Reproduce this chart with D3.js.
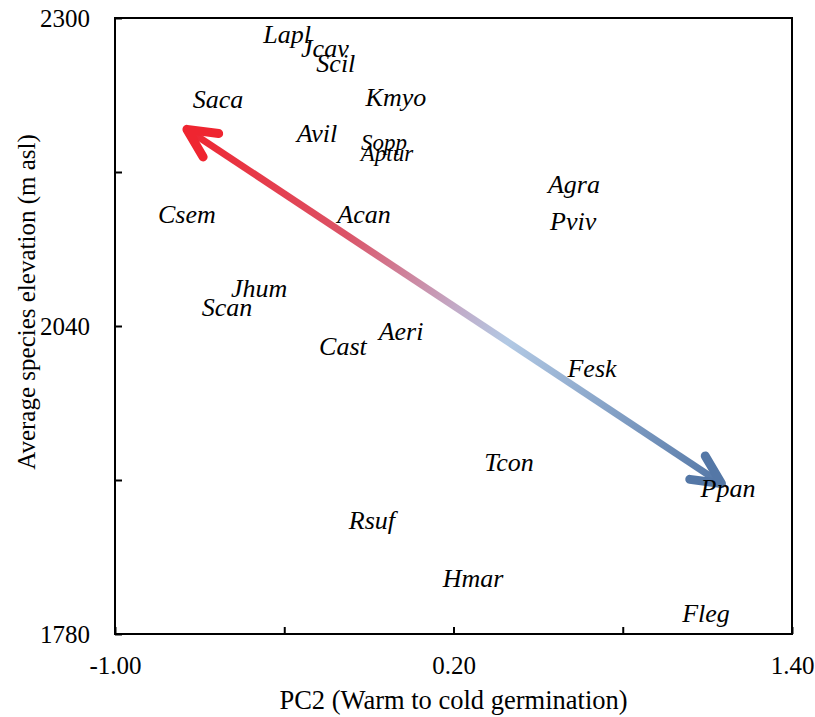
<!DOCTYPE html>
<html>
<head>
<meta charset="utf-8">
<script src="https://cdn.jsdelivr.net/npm/d3@7"></script>
<style>
  body { margin: 0; background: #fff; }
  svg text { font-family: "Liberation Serif", "Times New Roman", serif; fill: #000; }
</style>
</head>
<body>
<div class="chart"></div>
<script>
// species labels (label centres)
var species   = ["Lapl", "Jcav", "Scil", "Saca", "Kmyo", "Avil", "Sopp", "Aptur", "Csem", "Acan",
                 "Agra", "Pviv", "Jhum", "Scan", "Aeri", "Cast", "Fesk", "Tcon", "Ppan", "Rsuf", "Hmar", "Fleg"];
var pc2       = [-0.390, -0.256, -0.217, -0.635, -0.004, -0.284, -0.046, -0.036, -0.745, -0.117,
                 0.627, 0.624, -0.489, -0.603, 0.014, -0.192, 0.691, 0.397, 1.173, -0.089, 0.269, 1.095];
var elevation = [2287, 2275, 2262, 2232, 2233, 2203, 2195, 2186, 2135, 2135,
                 2160, 2129, 2072, 2056, 2036, 2023, 2005, 1925, 1903, 1876, 1827, 1798];

var xTicks = [-1.0, -0.4, 0.2, 0.8, 1.4];
var xTickLabels = ["-1.00", "", "0.20", "", "1.40"];
var yTicks = [1780, 1910, 2040, 2170, 2300];
var yTickLabels = ["1780", "", "2040", "", "2300"];

// double headed arrow (warm -> cold)
var arrowStart = [-0.745, 2206];
var arrowEnd = [1.150, 1907];

var width = 815, height = 717;
var margin = {top: 18, right: 23, bottom: 83, left: 115};
var serif = "'Liberation Serif', 'Times New Roman', serif";

var svg = d3.select(".chart").append("svg")
    .attr("width", width)
    .attr("height", height);

var x = d3.scaleLinear().domain([-1.0, 1.4]).range([margin.left, width - margin.right]);
var y = d3.scaleLinear().domain([1780, 2300]).range([height - margin.bottom, margin.top]);

// axes, ticks pointing inwards
var xAxis = d3.axisBottom(x)
    .tickValues(xTicks)
    .tickSizeInner(-7).tickSizeOuter(0).tickPadding(22)
    .tickFormat(function (d, i) { return xTickLabels[i]; });

var yAxis = d3.axisLeft(y)
    .tickValues(yTicks)
    .tickSizeInner(-7).tickSizeOuter(0).tickPadding(25)
    .tickFormat(function (d, i) { return yTickLabels[i]; });

var gx = svg.append("g")
    .attr("transform", "translate(0," + (height - margin.bottom) + ")")
    .call(xAxis);
var gy = svg.append("g")
    .attr("transform", "translate(" + margin.left + ",0)")
    .call(yAxis);

[gx, gy].forEach(function (g) {
    g.attr("font-family", null).attr("font-size", null);
    g.select(".domain").remove();
    g.selectAll(".tick line").attr("stroke", "#000").attr("stroke-width", 2);
    g.selectAll(".tick text")
        .style("font-family", serif)
        .style("font-size", "25px");
});
gx.selectAll(".tick text").attr("dy", "0.71em");

// frame
svg.append("rect")
    .attr("x", x(-1.0))
    .attr("y", y(2300))
    .attr("width", x(1.4) - x(-1.0))
    .attr("height", y(1780) - y(2300))
    .attr("fill", "none")
    .attr("stroke", "#000")
    .attr("stroke-width", 2);

// axis titles
svg.append("text")
    .attr("x", (x(-1.0) + x(1.4)) / 2)
    .attr("y", 709)
    .attr("text-anchor", "middle")
    .style("font-family", serif)
    .style("font-size", "26.5px")
    .text("PC2 (Warm to cold germination)");

svg.append("text")
    .attr("transform", "translate(35,302) rotate(-90)")
    .attr("text-anchor", "middle")
    .style("font-family", serif)
    .style("font-size", "25px")
    .text("Average species elevation (m asl)");

// gradient arrow
var x1 = x(arrowStart[0]), y1 = y(arrowStart[1]),
    x2 = x(arrowEnd[0]), y2 = y(arrowEnd[1]);

var grad = svg.append("defs").append("linearGradient")
    .attr("id", "arrowGrad")
    .attr("gradientUnits", "userSpaceOnUse")
    .attr("x1", x1).attr("y1", y1)
    .attr("x2", x2).attr("y2", y2);
grad.append("stop").attr("offset", "0").attr("stop-color", "#ef2530");
grad.append("stop").attr("offset", "0.3").attr("stop-color", "#db5468");
grad.append("stop").attr("offset", "0.5").attr("stop-color", "#c3a9c6");
grad.append("stop").attr("offset", "0.6").attr("stop-color", "#b2c9e4");
grad.append("stop").attr("offset", "1").attr("stop-color", "#5477a6");

svg.append("line")
    .attr("x1", x1).attr("y1", y1)
    .attr("x2", x2).attr("y2", y2)
    .attr("stroke", "url(#arrowGrad)")
    .attr("stroke-width", 7);

function head(tx, ty, fx, fy, color) {
    var a = Math.atan2(fy - ty, fx - tx), len = 32, spread = 26 * Math.PI / 180;
    var p = [
        [tx + len * Math.cos(a - spread), ty + len * Math.sin(a - spread)],
        [tx, ty],
        [tx + len * Math.cos(a + spread), ty + len * Math.sin(a + spread)]
    ];
    svg.append("path")
        .attr("d", d3.line()(p))
        .attr("fill", "none")
        .attr("stroke", color)
        .attr("stroke-width", 9)
        .attr("stroke-linecap", "round")
        .attr("stroke-linejoin", "round");
}
head(x1, y1, x2, y2, "#ef2530");
head(x2, y2, x1, y1, "#5477a6");

// species labels
var small = ["Sopp", "Aptur"];
svg.append("g")
    .selectAll("text")
    .data(species)
    .enter().append("text")
    .attr("x", function (d, i) { return x(pc2[i]); })
    .attr("y", function (d, i) { return y(elevation[i]); })
    .attr("dy", "0.35em")
    .attr("text-anchor", "middle")
    .style("font-family", serif)
    .style("font-style", "italic")
    .style("font-size", function (d) { return small.indexOf(d) >= 0 ? "23px" : "26px"; })
    .text(function (d) { return d; });
</script>
</body>
</html>
